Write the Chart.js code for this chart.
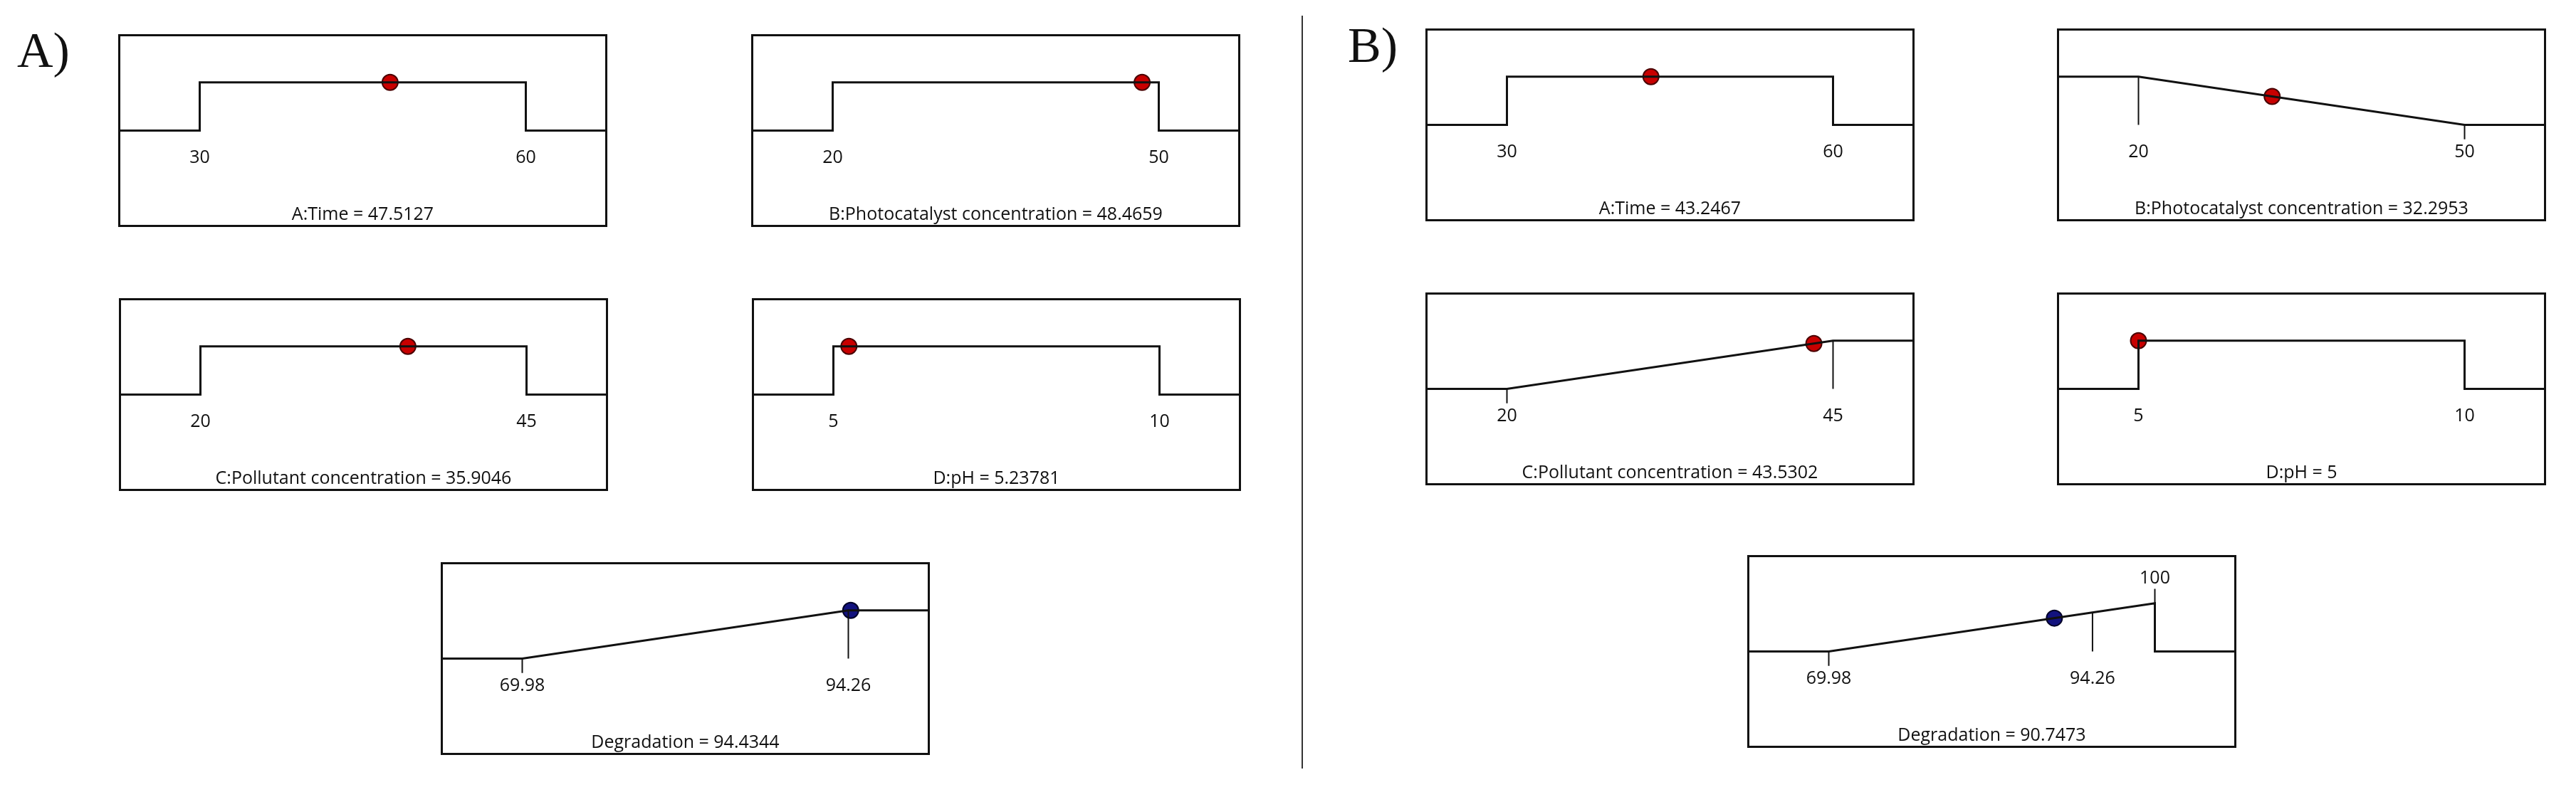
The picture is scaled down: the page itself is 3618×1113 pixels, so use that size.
<!DOCTYPE html>
<html>
<head>
<meta charset="utf-8">
<title>Desirability ramps</title>
<script src="https://cdn.jsdelivr.net/npm/chart.js@4.4.0/dist/chart.umd.min.js"></script>
<style>
    body { margin: 0; background: #fff; width: 3618px; height: 1113px; position: relative; overflow: hidden; }
    .panel { position: absolute; width: 713px; height: 297px; }
    .tag { position: absolute; font-family: 'Liberation Serif', serif; font-size: 70px; line-height: 1; color: #111; }
    #divider { position: absolute; left: 1828px; top: 22px; width: 2px; height: 1058px; background: #333; }
</style>
</head>
<body>
<div class="tag" style="left:24px; top:36px">A)</div>
<div class="tag" style="left:1893px; top:29px">B)</div>
<div id="divider"></div>

<div class="panel" style="left:153px; top:35px"><canvas id="a0" width="713" height="297"></canvas></div>
<div class="panel" style="left:1042px; top:35px"><canvas id="a1" width="713" height="297"></canvas></div>
<div class="panel" style="left:154px; top:406px"><canvas id="a2" width="713" height="297"></canvas></div>
<div class="panel" style="left:1043px; top:406px"><canvas id="a3" width="713" height="297"></canvas></div>
<div class="panel" style="left:606px; top:777px"><canvas id="aR" width="713" height="297"></canvas></div>

<div class="panel" style="left:1989px; top:27px"><canvas id="b0" width="713" height="297"></canvas></div>
<div class="panel" style="left:2876px; top:27px"><canvas id="b1" width="713" height="297"></canvas></div>
<div class="panel" style="left:1989px; top:398px"><canvas id="b2" width="713" height="297"></canvas></div>
<div class="panel" style="left:2876px; top:398px"><canvas id="b3" width="713" height="297"></canvas></div>
<div class="panel" style="left:2441px; top:767px"><canvas id="bR" width="713" height="297"></canvas></div>

<script>
// factores del diseño
const factorNames = ['A:Time', 'B:Photocatalyst concentration', 'C:Pollutant concentration', 'D:pH'];
const factorLow = [30, 20, 20, 5];
const factorHigh = [60, 50, 45, 10];
const goalsA = ['range', 'range', 'range', 'range'];
const goalsB = ['range', 'minimize', 'maximize', 'range'];
const solutionA = [47.5127, 48.4659, 35.9046, 5.23781];
const solutionB = [43.2467, 32.2953, 43.5302, 5];

// respuesta
const responseName = 'Degradation';
const responseLow = [69.98, 69.98];
const responseHigh = [94.26, 100];
const responseObservedMax = 94.26;
const responseValue = [94.4344, 90.7473];
const responseTicksA = [69.98, 94.26];
const responseTicksB = [69.98, 94.26];
const responseTopTicksB = [100];

const INK = '#111111';
const FONT = "25px 'Open Sans', sans-serif";

const padRange = (lo, hi) => {
    const p = 0.25 * (hi - lo);
    return [lo - p, hi + p];
};

// altura sobre la rampa (deseabilidad)
const desirability = (goal, lo, hi, v) => {
    if (goal === 'minimize') return Math.max(0, Math.min(1, (hi - v) / (hi - lo)));
    if (goal === 'maximize') return Math.max(0, Math.min(1, (v - lo) / (hi - lo)));
    return 1;
};

const rampLine = (goal, lo, hi, xmin, xmax, dropAtHigh) => {
    if (goal === 'minimize') {
        return [{ x: xmin, y: 1 }, { x: lo, y: 1 }, { x: hi, y: 0 }, { x: xmax, y: 0 }];
    }
    if (goal === 'maximize') {
        if (dropAtHigh) {
            return [{ x: xmin, y: 0 }, { x: lo, y: 0 }, { x: hi, y: 1 }, { x: hi, y: 0 }, { x: xmax, y: 0 }];
        }
        return [{ x: xmin, y: 0 }, { x: lo, y: 0 }, { x: hi, y: 1 }, { x: xmax, y: 1 }];
    }
    return [{ x: xmin, y: 0 }, { x: lo, y: 0 }, { x: lo, y: 1 }, { x: hi, y: 1 }, { x: hi, y: 0 }, { x: xmax, y: 0 }];
};

// marcas cortas, separadas con null
const tickSegments = (goal, lo, hi) => {
    const seg = [];
    if (goal === 'minimize') {
        seg.push({ x: lo, y: 1 }, { x: lo, y: 0 }, { x: lo, y: null });
        seg.push({ x: hi, y: 0 }, { x: hi, y: -0.3 });
    } else if (goal === 'maximize') {
        seg.push({ x: lo, y: 0 }, { x: lo, y: -0.3 }, { x: lo, y: null });
        seg.push({ x: hi, y: 1 }, { x: hi, y: 0 });
    }
    return seg;
};

const panelText = {
    id: 'panelText',
    afterDatasetsDraw(chart, args, opts) {
        const { ctx, chartArea, scales } = chart;
        ctx.save();
        ctx.fillStyle = INK;
        ctx.font = FONT;
        ctx.textAlign = 'center';
        ctx.textBaseline = 'middle';
        opts.labels.forEach(t => {
            ctx.fillText(String(t), scales.x.getPixelForValue(t), scales.y.getPixelForValue(-0.56));
        });
        (opts.topLabels || []).forEach(t => {
            ctx.fillText(String(t), scales.x.getPixelForValue(t), scales.y.getPixelForValue(1.52));
        });
        ctx.fillText(opts.title, (chartArea.left + chartArea.right) / 2, scales.y.getPixelForValue(-1.75));
        // marco
        ctx.strokeStyle = INK;
        ctx.lineWidth = 3;
        ctx.strokeRect(chartArea.left + 1.5, chartArea.top + 1.5, chartArea.width - 3, chartArea.height - 3);
        ctx.restore();
    }
};

const crearPanel = (id, cfg) => {
    const [xmin, xmax] = padRange(cfg.lo, cfg.hi);
    const dotY = desirability(cfg.goal, cfg.lo, cfg.hi, cfg.value);
    new Chart(document.getElementById(id), {
        type: 'line',
        data: {
            datasets: [
                {
                    data: rampLine(cfg.goal, cfg.lo, cfg.hi, xmin, xmax, cfg.dropAtHigh),
                    borderColor: INK, borderWidth: 3, pointRadius: 0,
                    tension: 0, borderJoinStyle: 'miter', clip: false
                },
                {
                    data: cfg.ticks,
                    borderColor: INK, borderWidth: 2, pointRadius: 0, spanGaps: false
                },
                {
                    type: 'scatter',
                    data: [{ x: cfg.value, y: dotY }],
                    pointRadius: 11, pointBorderWidth: 2,
                    backgroundColor: cfg.dotColor, borderColor: cfg.dotEdge
                }
            ]
        },
        options: {
            responsive: false,
            animation: false,
            layout: { padding: 0 },
            scales: {
                x: { type: 'linear', min: xmin, max: xmax, display: false },
                y: { min: -2, max: 2, display: false }
            },
            plugins: {
                legend: { display: false },
                tooltip: { enabled: false },
                panelText: {
                    labels: cfg.labels,
                    topLabels: cfg.topLabels,
                    title: cfg.title
                }
            }
        },
        plugins: [panelText]
    });
};

window.onload = function () {
    factorNames.forEach((name, i) => {
        crearPanel('a' + i, {
            lo: factorLow[i], hi: factorHigh[i], goal: goalsA[i], value: solutionA[i],
            ticks: tickSegments(goalsA[i], factorLow[i], factorHigh[i]),
            labels: [factorLow[i], factorHigh[i]],
            title: name + ' = ' + solutionA[i],
            dotColor: '#c80000', dotEdge: '#4a0000'
        });
        crearPanel('b' + i, {
            lo: factorLow[i], hi: factorHigh[i], goal: goalsB[i], value: solutionB[i],
            ticks: tickSegments(goalsB[i], factorLow[i], factorHigh[i]),
            labels: [factorLow[i], factorHigh[i]],
            title: name + ' = ' + solutionB[i],
            dotColor: '#c80000', dotEdge: '#4a0000'
        });
    });

    crearPanel('aR', {
        lo: responseLow[0], hi: responseHigh[0], goal: 'maximize', value: responseValue[0],
        ticks: tickSegments('maximize', responseLow[0], responseHigh[0]),
        labels: responseTicksA,
        title: responseName + ' = ' + responseValue[0],
        dotColor: '#12127e', dotEdge: '#000028'
    });

    // en B el limite superior es 100 y se marca el maximo observado
    const loB = responseLow[1];
    const hiB = responseHigh[1];
    const obsY = desirability('maximize', loB, hiB, responseObservedMax);
    const ticksB = [
        { x: loB, y: 0 }, { x: loB, y: -0.3 }, { x: loB, y: null },
        { x: responseObservedMax, y: obsY }, { x: responseObservedMax, y: 0 }, { x: responseObservedMax, y: null },
        { x: hiB, y: 1.3 }, { x: hiB, y: 1 }
    ];
    crearPanel('bR', {
        lo: loB, hi: hiB, goal: 'maximize', value: responseValue[1], dropAtHigh: true,
        ticks: ticksB,
        labels: responseTicksB,
        topLabels: responseTopTicksB,
        title: responseName + ' = ' + responseValue[1],
        dotColor: '#12127e', dotEdge: '#000028'
    });
};
</script>
</body>
</html>
